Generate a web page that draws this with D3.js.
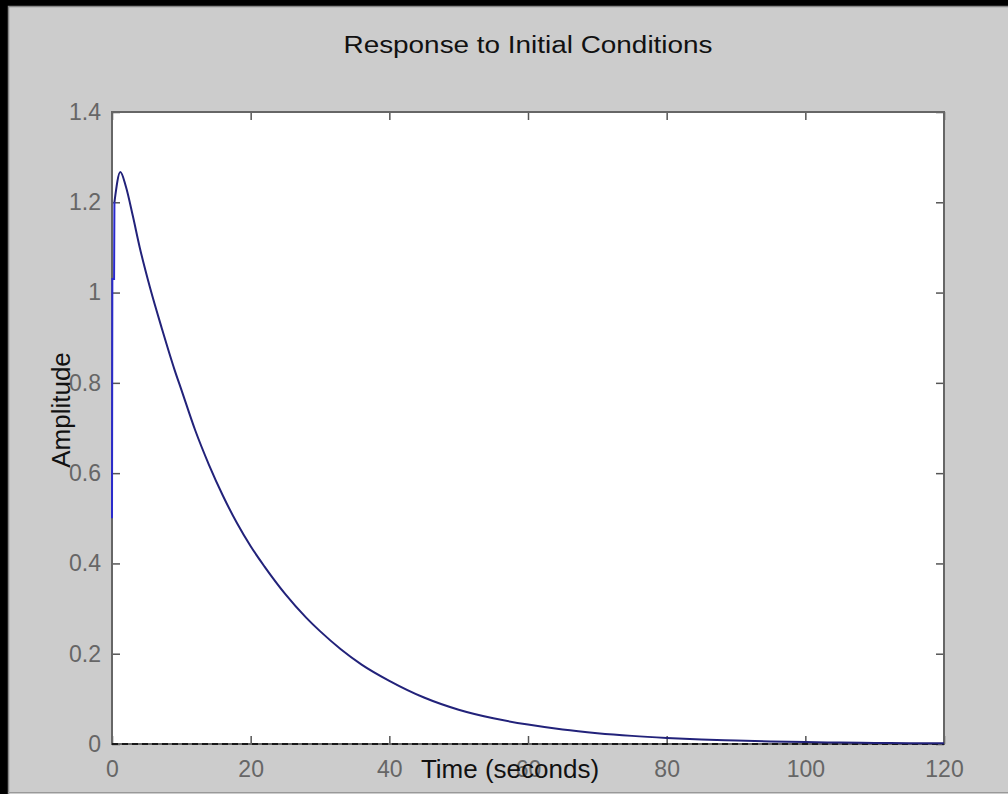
<!DOCTYPE html>
<html>
<head>
<meta charset="utf-8">
<script src="https://cdn.jsdelivr.net/npm/d3@7"></script>
<style>
  body { margin: 0; background: #cccccc; }
  svg { display: block; font-family: "Liberation Sans", Arial, sans-serif; }
  .axis text { fill: #666666; font-size: 23px; }
  .axis line { stroke: #555555; stroke-width: 1.5; }
</style>
</head>
<body>
<div id="chart"></div>
<script>
// values
var time = [0, 0.05, 0.3, 0.35, 1.2, 2, 3, 4, 5.5, 7.2, 9, 10, 12, 14, 16, 18, 20, 22, 25, 28, 30, 33, 36, 40,
            45, 50, 55, 60, 65, 70, 75, 80, 85, 90, 95, 100, 105, 110, 115, 120];
var amplitude = [0.5, 1.03, 1.03, 1.2, 1.267, 1.235, 1.17, 1.1, 1.01, 0.92, 0.83, 0.785, 0.695, 0.618, 0.55, 0.49,
                 0.438, 0.393, 0.332, 0.28, 0.25, 0.21, 0.176, 0.14, 0.103, 0.076, 0.057, 0.043, 0.032, 0.024,
                 0.018, 0.0135, 0.010, 0.0078, 0.0058, 0.0043, 0.0032, 0.0024, 0.0018, 0.0014];
var xTicks = [0, 20, 40, 60, 80, 100, 120];
var yTicks = [0, 0.2, 0.4, 0.6, 0.8, 1, 1.2, 1.4];

var data = time.map(function(t, i) { return { t: t, v: amplitude[i] }; });

var W = 1008, H = 794;
var margin = {top: 112, right: 64, bottom: 50, left: 112},
    width = W - margin.left - margin.right,
    height = H - margin.top - margin.bottom;

var svg = d3.select("#chart").append("svg")
    .attr("width", W)
    .attr("height", H);

// window frame
svg.append("rect").attr("width", W).attr("height", H).attr("fill", "#cccccc");
svg.append("rect").attr("x", 0).attr("y", 0).attr("width", W).attr("height", 6).attr("fill", "#000");
svg.append("rect").attr("x", 0).attr("y", 0).attr("width", 8).attr("height", H).attr("fill", "#000");
svg.append("path").attr("d", "M8.5," + H + "V6.5H" + W).attr("fill", "none").attr("stroke", "#888").attr("stroke-width", 1.5);
svg.append("line").attr("x1", 8).attr("x2", W).attr("y1", 792.5).attr("y2", 792.5).attr("stroke", "#999");

var x = d3.scaleLinear().domain([0, 120]).range([0, width]),
    y = d3.scaleLinear().domain([0, 1.4]).range([height, 0]);

var g = svg.append("g")
    .attr("transform", "translate(" + margin.left + "," + margin.top + ")");

g.append("rect")
    .attr("width", width)
    .attr("height", height)
    .attr("fill", "#ffffff");

var fmt = function(d) { return d3.format("")(+d.toFixed(1)); };

g.append("g")
    .attr("class", "axis")
    .attr("transform", "translate(0," + height + ")")
    .call(d3.axisBottom(x).tickValues(xTicks).tickSize(-8).tickPadding(17).tickFormat(fmt));

g.append("g")
    .attr("class", "axis")
    .call(d3.axisTop(x).tickValues(xTicks).tickSize(-8).tickFormat(""));

g.append("g")
    .attr("class", "axis")
    .call(d3.axisLeft(y).tickValues(yTicks).tickSize(-8).tickPadding(11).tickFormat(fmt));

g.append("g")
    .attr("class", "axis")
    .attr("transform", "translate(" + width + ",0)")
    .call(d3.axisRight(y).tickValues(yTicks).tickSize(-8).tickFormat(""));

g.selectAll(".axis .domain").remove();

g.append("rect")
    .attr("width", width)
    .attr("height", height)
    .attr("fill", "none")
    .attr("stroke", "#666666")
    .attr("stroke-width", 2);

// zero reference line
g.append("line")
    .attr("x1", x(0)).attr("x2", x(120))
    .attr("y1", y(0)).attr("y2", y(0))
    .attr("stroke", "#000")
    .attr("stroke-width", 1.5)
    .attr("stroke-dasharray", "6,4");

var line = d3.line()
    .curve(d3.curveMonotoneX)
    .x(function(d) { return x(d.t); })
    .y(function(d) { return y(d.v); });

g.append("path")
    .datum(data.slice(3))
    .attr("fill", "none")
    .attr("stroke", "#22227a")
    .attr("stroke-width", 2)
    .attr("d", line);

g.append("path")
    .datum(data.slice(0, 4))
    .attr("fill", "none")
    .attr("stroke", "#2a2acc")
    .attr("stroke-width", 2)
    .attr("d", line.curve(d3.curveLinear));

// titles
svg.append("text")
    .attr("x", margin.left + width / 2)
    .attr("y", 53)
    .attr("text-anchor", "middle")
    .attr("fill", "#111")
    .attr("textLength", 369)
    .attr("lengthAdjust", "spacingAndGlyphs")
    .style("font-size", "23px")
    .text("Response to Initial Conditions");

svg.append("text")
    .attr("x", 510)
    .attr("y", 778)
    .attr("text-anchor", "middle")
    .attr("fill", "#111")
    .style("font-size", "26px")
    .text("Time (seconds)");

svg.append("text")
    .attr("transform", "translate(70,410) rotate(-90)")
    .attr("text-anchor", "middle")
    .attr("fill", "#111")
    .style("font-size", "26px")
    .text("Amplitude");
</script>
</body>
</html>
